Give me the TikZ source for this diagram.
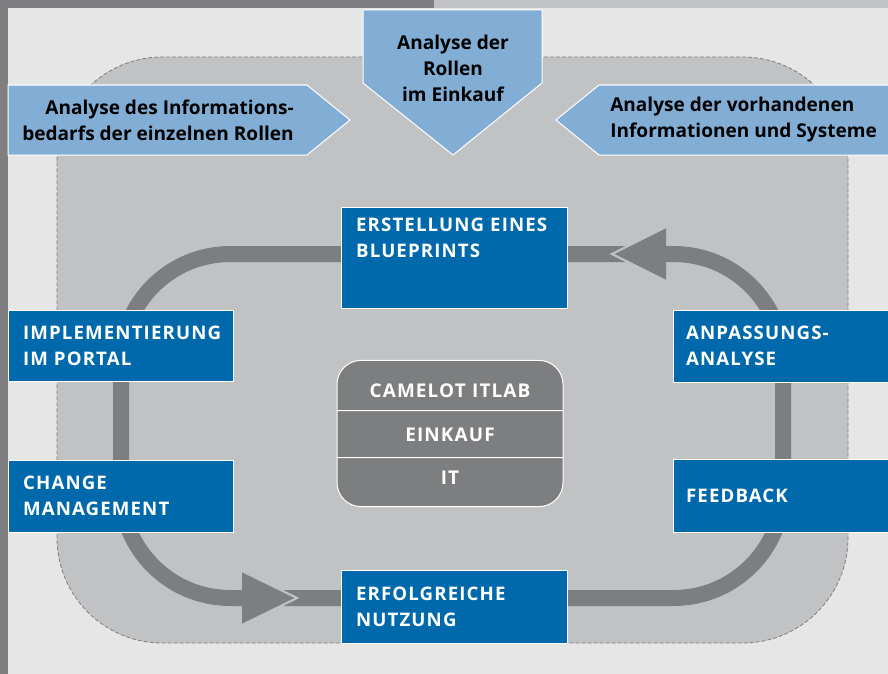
\documentclass[tikz,border=0pt]{standalone}
\usepackage{fontspec}
\setmainfont{Open Sans}
\newfontfamily\stepfont[LetterSpace=6]{Open Sans}
\usetikzlibrary{positioning,shapes.multipart}

\definecolor{paper}{RGB}{230,230,230}
\definecolor{frameGray}{RGB}{127,127,129}
\definecolor{areaGray}{RGB}{193,194,196}
\definecolor{cycleGray}{RGB}{125,126,128}
\definecolor{stepBlue}{RGB}{0,105,172}
\definecolor{inputBlue}{RGB}{130,174,214}

\begin{document}
\begin{tikzpicture}[x=0.75pt,y=-0.75pt,
  stepbox/.style={draw=white,line width=0.75pt,fill=stepBlue,inner sep=0pt},
  steptext/.style={text=white,align=left,inner sep=0pt,font=\stepfont\bfseries\fontsize{14}{19.5}\selectfont},
  inputarrow/.style={fill=inputBlue,draw=white,line width=0.75pt},
  inputtext/.style={inner sep=0pt,font=\bfseries\fontsize{14.3}{19.5}\selectfont},
  arrowtip/.style={fill=cycleGray},
  tipgap/.style={draw=areaGray,line width=1.6pt}]

\useasboundingbox (0,0) rectangle (888,674);
\fill[paper] (0,0) rectangle (888,674);
\fill[frameGray] (0,0) rectangle (434,8);
\fill[areaGray] (434,0) rectangle (888,8);
\fill[frameGray] (0,0) rectangle (8,674);
\draw[fill=areaGray,draw=frameGray,line width=0.6pt,dash pattern=on 3pt off 1.5pt,rounded corners=79pt] (57,57) rectangle (848,643);

\coordinate (loopnw) at (121,254);
\coordinate (loopse) at (783,598);
\draw[cycleGray,line width=12pt,rounded corners=82pt] (loopnw) rectangle (loopse);
\fill[arrowtip] (612,254) -- (666,227) -- (666,281) -- cycle;
\draw[tipgap] (666,227) -- (612,254) -- (666,281);
\fill[arrowtip] (297,598) -- (242,571) -- (242,625) -- cycle;
\draw[tipgap] (242,571) -- (297,598) -- (242,625);

\node[stepbox,minimum width=169.5pt,minimum height=75.75pt] (blueprint) at (454,257.5) {};
\node[steptext,anchor=north west] (blueprinttext) at ([xshift=11.5pt,yshift=-8.25pt]blueprint.north west) {ERSTELLUNG EINES\\BLUEPRINTS};

\node[stepbox,minimum width=168.75pt,minimum height=53.25pt] (portal) at (120.5,345.5) {};
\node[steptext,anchor=west] (portaltext) at ([xshift=11.5pt]portal.west) {IMPLEMENTIERUNG\\IM PORTAL};

\node[stepbox,minimum width=168.75pt,minimum height=54pt] (change) at (120.5,496) {};
\node[steptext,anchor=west] (changetext) at ([xshift=11.5pt]change.west) {CHANGE\\MANAGEMENT};

\node[stepbox,minimum width=169.5pt,minimum height=54.75pt] (usage) at (454,606.5) {};
\node[steptext,anchor=west] (usagetext) at ([xshift=11.5pt]usage.west) {ERFOLGREICHE\\NUTZUNG};

\node[stepbox,minimum width=162pt,minimum height=54pt] (fitcheck) at (781,346) {};
\node[steptext,anchor=west] (fitchecktext) at ([xshift=10pt]fitcheck.west) {ANPASSUNGS-\\ANALYSE};

\node[stepbox,minimum width=162pt,minimum height=54.75pt] (feedback) at (781,495.5) {};
\node[steptext,anchor=west] (feedbacktext) at ([xshift=10pt]feedback.west) {FEEDBACK};

\node[rectangle split,rectangle split parts=3,draw=white,line width=0.75pt,fill=cycleGray,
  rounded corners=18pt,text width=169.5pt,align=center,inner xsep=0pt,inner ysep=9.3pt,
  text=white,font=\stepfont\bfseries\fontsize{14.2}{16}\selectfont] (core) at (450,433.5)
  {\rule{0pt}{18.15pt}CAMELOT ITLAB\nodepart{two}\rule[-2.1pt]{0pt}{15.9pt}EINKAUF\nodepart{three}\rule[-6.6pt]{0pt}{17.4pt}IT};

\draw[inputarrow] (363,10) -- (542,10) -- (542,83) -- (453,155) -- (363,83) -- cycle;
\node[inputtext,align=center] (roles) at (453,68) {Analyse der\\Rollen\\im Einkauf};

\draw[inputarrow] (8,85) -- (307,85) -- (350,120) -- (307,155) -- (8,155) -- cycle;
\node[inputtext,align=right,anchor=east] (needs) at (294,120) {Analyse des Informations-\\bedarfs der einzelnen Rollen};

\draw[inputarrow] (556,120) -- (599,85) -- (890,85) -- (890,155) -- (599,155) -- cycle;
\node[inputtext,align=left,anchor=west] (systems) at (610,120) {Analyse der vorhandenen\\Informationen und Systeme};
\end{tikzpicture}
\end{document}
